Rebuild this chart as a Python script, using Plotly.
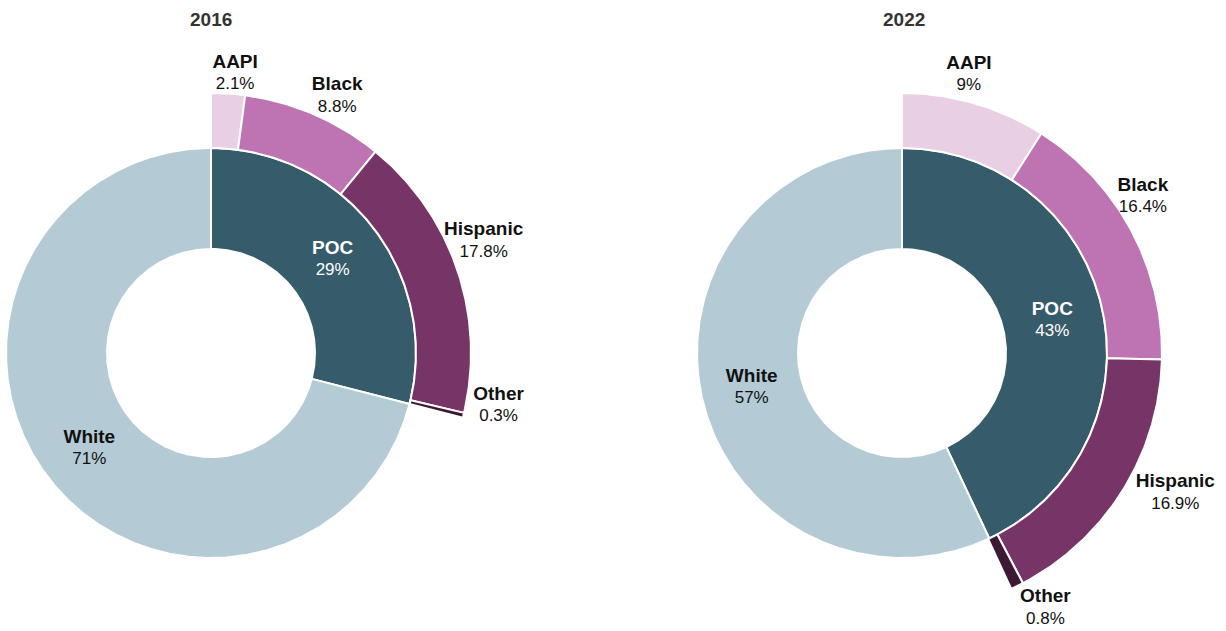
import numpy as np
import plotly.graph_objects as go

# ---------------- data ----------------
years = ["2016", "2022"]
inner_categories = ["POC", "White"]
inner_2016 = [29, 71]
inner_2022 = [43, 57]
outer_categories = ["AAPI", "Black", "Hispanic", "Other"]
outer_2016 = [2.1, 8.8, 17.8, 0.3]
outer_2022 = [9, 16.4, 16.9, 0.8]

# ---------------- styles / layout ----------------
colors = {
    "POC": "#365b6b",
    "White": "#b4cbd6",
    "AAPI": "#e8cfe4",
    "Black": "#be74b2",
    "Hispanic": "#773466",
    "Other": "#3e1935",
}
inner_text_color = {"POC": "#ffffff", "White": "#111111"}
FONT = "Arial, 'Liberation Sans', sans-serif"
W, H = 1226, 631
centers = {"2016": (211, 353), "2022": (902, 353)}
R_HOLE, R_IN, R_OUT0, R_OUT = 104, 205, 205, 260
R_LABEL_IN, R_LABEL_OUT = 154, 290
LINE_GAP = 11
NAME_SIZE, VALUE_SIZE = 19, 17
TEXT_SHIFT = 1.5
# small placement nudges (px) for outer labels
label_nudge = {
    ("2016", "AAPI"): (5, 9), ("2016", "Black"): (11, 8),
    ("2016", "Hispanic"): (-2, -20), ("2016", "Other"): (6, -18),
    ("2022", "AAPI"): (-14, -1), ("2022", "Black"): (-15, -21),
    ("2022", "Hispanic"): (27, -14), ("2022", "Other"): (15, -6),
}


def seg(cx, cy, r0, r1, a0, a1):
    n = max(2, int(np.ceil(abs(a1 - a0) / 0.5)) + 1)
    t = np.radians(np.linspace(a0, a1, n))
    xo, yo = cx + r1 * np.sin(t), cy - r1 * np.cos(t)
    tr = t[::-1]
    xi, yi = cx + r0 * np.sin(tr), cy - r0 * np.cos(tr)
    return (np.concatenate([xo, xi, xo[:1]]),
            np.concatenate([yo, yi, yo[:1]]))


def polar_pt(cx, cy, r, a):
    t = np.radians(a)
    return cx + r * np.sin(t), cy - r * np.cos(t)


fig = go.Figure()
data = {
    "2016": (inner_2016, outer_2016),
    "2022": (inner_2022, outer_2022),
}

for yr in years:
    cx, cy = centers[yr]
    inner_vals, outer_vals = data[yr]
    tx, ty, tt, tc, ts = [], [], [], [], []

    # inner ring
    start = 0.0
    for cat, v in zip(inner_categories, inner_vals):
        a0, a1 = start / 100 * 360, (start + v) / 100 * 360
        x, y = seg(cx, cy, R_HOLE, R_IN, a0, a1)
        fig.add_trace(go.Scatter(
            x=x, y=y, mode="lines", fill="toself", fillcolor=colors[cat],
            line=dict(color="white", width=2), hoveron="fills",
            name=f"{yr} {cat}", text=f"{cat}: {v:g}%", hoverinfo="text"))
        mx, my = polar_pt(cx, cy, R_LABEL_IN, (a0 + a1) / 2)
        my += TEXT_SHIFT
        tx += [mx, mx]; ty += [my - LINE_GAP, my + LINE_GAP]
        tt += [f"<b>{cat}</b>", f"{v:g}%"]
        tc += [inner_text_color[cat]] * 2
        ts += [NAME_SIZE, VALUE_SIZE]
        start += v

    # outer ring (POC breakdown)
    start = 0.0
    for cat, v in zip(outer_categories, outer_vals):
        a0, a1 = start / 100 * 360, (start + v) / 100 * 360
        x, y = seg(cx, cy, R_OUT0, R_OUT, a0, a1)
        fig.add_trace(go.Scatter(
            x=x, y=y, mode="lines", fill="toself", fillcolor=colors[cat],
            line=dict(color="white", width=2), hoveron="fills",
            name=f"{yr} {cat}", text=f"{cat}: {v:g}%", hoverinfo="text"))
        mx, my = polar_pt(cx, cy, R_LABEL_OUT, (a0 + a1) / 2)
        dx, dy = label_nudge[(yr, cat)]
        mx += dx; my += dy + TEXT_SHIFT
        tx += [mx, mx]; ty += [my - LINE_GAP, my + LINE_GAP]
        tt += [f"<b>{cat}</b>", f"{v:g}%"]
        tc += ["#111111"] * 2
        ts += [NAME_SIZE, VALUE_SIZE]
        start += v

    fig.add_trace(go.Scatter(
        x=tx, y=ty, mode="text", text=tt, textposition="middle center",
        textfont=dict(family=FONT, color=tc, size=ts), hoverinfo="skip",
        showlegend=False))

    fig.add_annotation(x=cx + (2 if yr == "2022" else 0), y=19, xref="x", yref="y",
                       text=f"<b>{yr}</b>", showarrow=False,
                       font=dict(family=FONT, size=19, color="#333333"))

fig.update_layout(
    width=W, height=H, margin=dict(l=0, r=0, t=0, b=0),
    paper_bgcolor="white", plot_bgcolor="white", showlegend=False,
    xaxis=dict(range=[0, W], visible=False, fixedrange=True),
    yaxis=dict(range=[H, 0], visible=False, fixedrange=True),
    font=dict(family=FONT),
)

fig.write_html("out.html")
